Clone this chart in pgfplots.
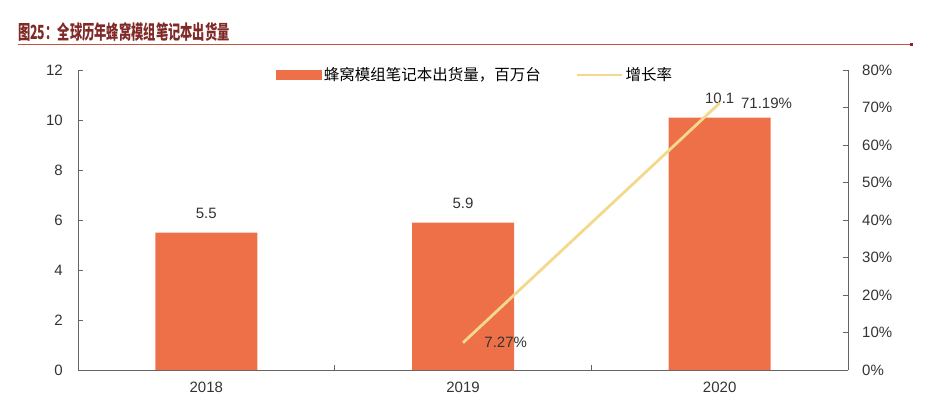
\documentclass[border=0pt]{standalone}
\usepackage{pgfplots}
\pgfplotsset{compat=1.18}
\usepackage{fontspec}
\usepackage{graphicx}
\setmainfont{Liberation Sans}
\newfontfamily\cjk{Noto Sans CJK SC}
\definecolor{barcol}{RGB}{238,112,73}
\definecolor{linecol}{RGB}{242,217,140}
\definecolor{titlecol}{RGB}{128,42,40}
\definecolor{rulecol}{RGB}{190,85,65}
\definecolor{textcol}{RGB}{51,51,51}
\definecolor{axiscol}{RGB}{100,100,100}
\begin{document}
\begin{tikzpicture}
\path[use as bounding box] (0,0) rectangle (933pt,397pt);
\node[anchor=west, text=titlecol, inner sep=0pt] at (18pt,365.5pt)
  {\scalebox{0.63}[1]{\fontsize{19.5}{19.5}\selectfont\cjk\bfseries 图25：全球历年蜂窝模组笔记本出货量}};
\draw[rulecol, line width=1.5pt] (18pt,352.5pt) -- (912pt,352.5pt);
\fill[titlecol] (910pt,350.5pt) rectangle (913pt,354pt);
\pgfplotsset{
  every axis/.append style={
    scale only axis, width=770pt, height=300pt,
    at={(78pt,27pt)}, anchor=south west,
    xmin=-0.5, xmax=2.5,
    axis line style={-, draw=axiscol, line width=0.9pt},
    tick style={draw=axiscol, line width=0.9pt},
    major tick length=5pt,
    tick align=inside,
    /pgf/number format/assume math mode=true,
    ticklabel style={font=\fontsize{15}{15}\selectfont, text=textcol, inner sep=0pt},
  }
}
\begin{axis}[
  axis x line*=bottom, axis y line*=left,
  ymin=0, ymax=12, ytick={0,2,...,12},
  xtick={0.5,1.5}, xticklabels={},
  extra x ticks={0,1,2}, extra x tick labels={2018,2019,2020},
  extra x tick style={major tick length=0pt},
  xticklabel style={yshift=-12pt},
  yticklabel style={xshift=-15pt},
  point meta=explicit symbolic,
  nodes near coords,
  nodes near coords style={anchor=south, inner sep=0pt, yshift=14pt,
    font=\fontsize{15}{15}\selectfont, text=textcol},
]
\addplot[ybar, bar width=102pt, fill=barcol, draw=none]
  coordinates {(0,5.5) [5.5] (1,5.9) [5.9] (2,10.1) [10.1]};
\end{axis}
\begin{axis}[
  axis x line=none, axis y line*=right,
  ymin=0, ymax=80, ytick={0,10,...,80},
  yticklabel={\pgfmathprintnumber{\tick}\%},
  yticklabel style={xshift=14pt},
  legend columns=2,
  legend style={draw=none, fill=none, at={(0.516,0.983)}, anchor=center,
    font=\fontsize{15.5}{15.5}\selectfont\cjk, text=black,
    /tikz/every even column/.append style={column sep=33pt},
    legend cell align=left},
  point meta=explicit symbolic,
]
\addlegendimage{legend image code/.code={\fill[barcol] (0pt,-4.5pt) rectangle (45pt,4.5pt);}}
\addlegendentry{蜂窝模组笔记本出货量，百万台}
\addplot[color=linecol, line width=2.8pt,
  nodes near coords,
  nodes near coords style={anchor=west, inner sep=0pt, xshift=20pt,
    font=\fontsize{15}{15}\selectfont, text=textcol},
  legend image code/.code={\draw[linecol, line width=2.8pt] (0pt,0pt) -- (45pt,0pt);}]
  coordinates {(1,7.27) [7.27\%] (2,71.19) [71.19\%]};
\addlegendentry{增长率}
\end{axis}
\end{tikzpicture}
\end{document}
